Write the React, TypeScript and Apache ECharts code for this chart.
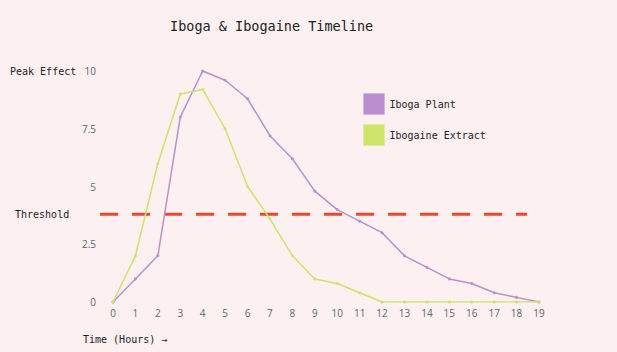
import React, { useEffect, useRef } from "react";
import * as echarts from "echarts";

const hours = ["0","1","2","3","4","5","6","7","8","9","10","11","12","13","14","15","16","17","18","19"];
const ibogaPlant = [0, 1, 2, 8, 10, 9.6, 8.8, 7.2, 6.2, 4.8, 4.0, 3.5, 3.0, 2.0, 1.5, 1.0, 0.8, 0.4, 0.2, 0];
const ibogaineExtract = [0, 2, 6, 9, 9.2, 7.5, 5, 3.6, 2, 1, 0.8, 0.4, 0, 0, 0, 0, 0, 0, 0, 0];
const thresholdValue = 3.8;
const yTicks = [0, 2.5, 5, 7.5, 10];

const MONO = "'DejaVu Sans Mono', 'Liberation Mono', monospace";
const SANS = "'Open Sans', 'Noto Sans', sans-serif";

export default function App() {
  const ref = useRef<HTMLDivElement>(null);
  useEffect(() => {
    document.body.style.margin = "0";
    const chart = echarts.init(ref.current!, null, { renderer: "svg" });
    chart.setOption({
      animation: false,
      backgroundColor: "#fcf0f1",
      title: {
        text: "Iboga & Ibogaine Timeline",
        left: 165,
        top: 14,
        textStyle: { fontFamily: MONO, fontSize: 13.5, fontWeight: "normal", color: "#222" },
      },
      legend: {
        orient: "vertical",
        left: 363,
        top: 93,
        padding: 0,
        itemWidth: 21,
        itemHeight: 21,
        itemGap: 9,
        icon: "rect",
        textStyle: { fontFamily: MONO, fontSize: 10, color: "#222" },
        data: [
          { name: "Iboga Plant", itemStyle: { color: "#b98fcf", borderColor: "#d3b4e2", borderWidth: 1 } },
          { name: "Ibogaine Extract", itemStyle: { color: "#cde36a", borderColor: "#e0ee9a", borderWidth: 1 } },
        ],
      },
      grid: [
        { left: 113, right: 78, top: 71, bottom: 50 },
        { left: 100, width: 427, top: 71, bottom: 50 },
      ],
      xAxis: [
        {
          type: "category",
          data: hours,
          boundaryGap: false,
          gridIndex: 0,
          axisLine: { show: false },
          axisTick: { show: false },
          axisLabel: { fontFamily: SANS, fontSize: 10, color: "#666", margin: 6 },
          splitLine: { show: false },
        },
        { type: "value", gridIndex: 1, min: 0, max: 1, show: false },
      ],
      yAxis: [
        {
          type: "value",
          min: 0,
          max: 10,
          interval: 2.5,
          gridIndex: 0,
          axisLine: { show: false },
          axisTick: { show: false },
          splitLine: { show: false },
          axisLabel: {
            fontFamily: SANS,
            fontSize: 10,
            color: "#666",
            margin: 17,
            formatter: (v: number) => (yTicks.includes(v) ? String(v) : ""),
          },
        },
        { type: "value", gridIndex: 1, min: 0, max: 10, show: false },
      ],
      series: [
        {
          name: "Iboga Plant",
          type: "line",
          data: ibogaPlant,
          xAxisIndex: 0,
          yAxisIndex: 0,
          symbol: "circle",
          symbolSize: 3,
          itemStyle: { color: "#b98fcf" },
          lineStyle: { color: "#b98fcf", width: 1.5 },
        },
        {
          name: "Ibogaine Extract",
          type: "line",
          data: ibogaineExtract,
          xAxisIndex: 0,
          yAxisIndex: 0,
          symbol: "circle",
          symbolSize: 3,
          itemStyle: { color: "#cde36a" },
          lineStyle: { color: "#cde36a", width: 1.5 },
        },
        {
          name: "Threshold",
          type: "line",
          xAxisIndex: 1,
          yAxisIndex: 1,
          data: [[0, thresholdValue], [1, thresholdValue]],
          symbol: "none",
          silent: true,
          lineStyle: { color: "#f2452e", width: 3, type: [18, 14] },
          z: 1,
        },
      ],
      graphic: [
        {
          type: "text",
          left: 10,
          top: 66,
          style: { text: "Peak Effect", font: `10px ${MONO}`, fill: "#222" },
        },
        {
          type: "text",
          left: 15,
          top: 209,
          style: { text: "Threshold", font: `10px ${MONO}`, fill: "#222" },
        },
        {
          type: "text",
          left: 83,
          top: 334,
          style: { text: "Time (Hours) →", font: `10px ${MONO}`, fill: "#222" },
        },
      ],
    });
    return () => chart.dispose();
  }, []);
  return <div ref={ref} style={{ position: "absolute", left: 0, top: 0, width: 617, height: 352 }} />;
}
